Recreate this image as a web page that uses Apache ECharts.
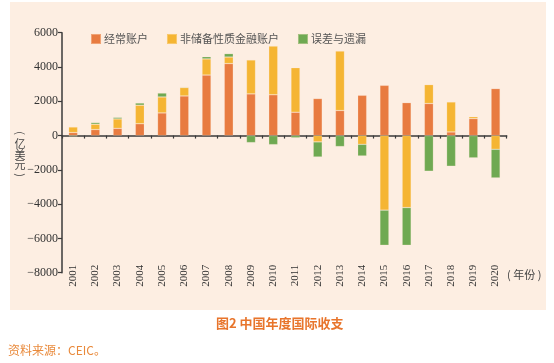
<!DOCTYPE html>
<html>
<head>
<meta charset="utf-8">
<script src="https://cdn.jsdelivr.net/npm/echarts@6/dist/echarts.min.js"></script>
<style>
html,body{margin:0;padding:0;background:#fff;}
#chart{width:554px;height:363px;}
</style>
</head>
<body>
<div id="chart"></div>
<script>
const years = ['2001','2002','2003','2004','2005','2006','2007','2008','2009','2010','2011','2012','2013','2014','2015','2016','2017','2018','2019','2020'];
const currentAccount = [175, 350, 420, 690, 1320, 2310, 3530, 4200, 2430, 2380, 1360, 2160, 1460, 2350, 2930, 1920, 1870, 210, 990, 2740];
const nonReserveFinancial = [325, 310, 550, 1080, 930, 490, 940, 380, 1980, 2840, 2600, -370, 3470, -510, -4350, -4200, 1100, 1750, 110, -800];
const errorsOmissions = [-50, 100, 90, 130, 230, 40, 130, 200, -410, -530, -130, -880, -640, -680, -2050, -2200, -2080, -1790, -1300, -1670];
const seriesNames = ['经常账户', '非储备性质金融账户', '误差与遗漏'];
const yTicks = { min: -8000, max: 6000, interval: 2000 };

const colors = ['#E87B40', '#F5B533', '#6FA952'];
const serif = '"Liberation Serif", "DejaVu Serif", serif';
const cjk = '"Noto Sans CJK SC", sans-serif';

const chart = echarts.init(document.getElementById('chart'), null, { renderer: 'canvas' });
const mk = (name, data, i) => ({
  name: name, type: 'bar', stack: 'bop', data: data, barWidth: 9,
  xAxisIndex: 0,
  itemStyle: { color: colors[i], borderColor: 'rgba(255,235,215,0.35)', borderWidth: 0.6 },
  emphasis: { disabled: true }
});

// vertical axis name, characters upright, parentheses rotated
const vname = [];
const vchars = ['(', '亿', '美', '元', ')'];
const vy = [133, 143.5, 154.5, 165, 175];
vchars.forEach((c, i) => {
  const paren = (c === '(' || c === ')');
  vname.push({
    type: 'text', x: 20, y: vy[i], rotation: paren ? -Math.PI / 2 : 0,
    style: { text: c, font: '11px ' + cjk, fill: '#444', align: 'center', verticalAlign: 'middle' }
  });
});

chart.setOption({
  animation: false,
  color: colors,
  graphic: [
    { type: 'rect', z: -10, shape: { x: 10, y: 2, width: 536, height: 308 }, style: { fill: '#FDEEE2' } },
    { type: 'text', left: 216, top: 317, style: { text: '图2 中国年度国际收支', font: 'bold 13px ' + cjk, fill: '#E8752C' } },
    { type: 'text', left: 8, top: 344, style: { text: '资料来源：CEIC。', font: '12px ' + cjk, fill: '#E98A3C' } },
    { type: 'text', left: 507, top: 269, style: { text: '( 年份 )', font: '11px ' + cjk, fill: '#444' } }
  ].concat(vname),
  legend: {
    data: seriesNames,
    left: 85, top: 28,
    itemWidth: 10, itemHeight: 10, itemGap: 18,
    icon: 'rect',
    textStyle: { fontSize: 11, color: '#555', fontFamily: cjk, padding: [0, 0, 0, -2] }
  },
  grid: { left: 62, right: 47.3, top: 32.7, bottom: 90.3, containLabel: false },
  xAxis: [
    {
      type: 'category', data: years, position: 'bottom',
      axisLine: { show: false, onZero: false },
      axisTick: { show: false },
      axisLabel: { rotate: 90, margin: -8, fontSize: 11, color: '#333', fontFamily: serif, interval: 0 }
    },
    {
      type: 'category', data: years, position: 'bottom',
      axisLine: { show: true, onZero: true, lineStyle: { color: '#3a3a3a', width: 1.5 } },
      axisTick: { show: true, length: 3, lineStyle: { color: '#3a3a3a', width: 1.2 }, interval: 0 },
      axisLabel: { show: false }
    }
  ],
  yAxis: {
    type: 'value', min: yTicks.min, max: yTicks.max, interval: yTicks.interval,
    axisLine: { show: true, onZero: false, lineStyle: { color: '#3a3a3a', width: 1.5 } },
    axisTick: { show: true, length: 4, lineStyle: { color: '#3a3a3a', width: 1.2 } },
    splitLine: { show: false },
    axisLabel: { fontSize: 12, color: '#333', fontFamily: serif, margin: 4,
      formatter: v => String(v).replace('-', '−') }
  },
  series: [
    mk(seriesNames[0], currentAccount, 0),
    mk(seriesNames[1], nonReserveFinancial, 1),
    mk(seriesNames[2], errorsOmissions, 2)
  ]
});
</script>
</body>
</html>
